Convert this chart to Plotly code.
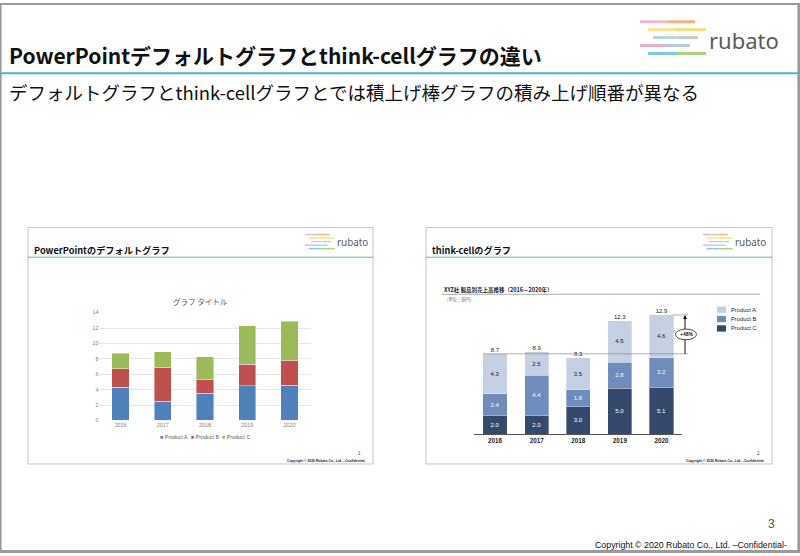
import plotly.graph_objects as go

W, H = 800, 556


def X(px):
    return px / W


def Y(py):
    return 1 - py / H


# ---------------- data ----------------
years = ["2016", "2017", "2018", "2019", "2020"]
series_names = ["Product A", "Product B", "Product C"]
product_a = [4.3, 2.5, 3.5, 4.5, 4.6]
product_b = [2.4, 4.4, 1.8, 2.8, 3.2]
product_c = [2.0, 2.0, 3.0, 5.0, 5.1]
y_ticks = [0, 2, 4, 6, 8, 10, 12, 14]

main_title = "PowerPointデフォルトグラフとthink-cellグラフの違い"
sub_title = "デフォルトグラフとthink-cellグラフとでは積上げ棒グラフの積み上げ順番が異なる"
left_panel_title = "PowerPointのデフォルトグラフ"
right_panel_title = "think-cellのグラフ"
left_chart_title = "グラフ タイトル"
right_chart_title = "XYZ社 製品別売上高推移（2016－2020年）"
right_unit = "（単位：億円）"
copyright_text = "Copyright © 2020 Rubato Co., Ltd. –Confidential-"

ppt_colors = ["#4F81BD", "#C0504D", "#9BBB59"]
tc_colors = ["#C5D0E3", "#6E8DBD", "#35496D"]
tc_text_colors = ["#1a1a1a", "#ffffff", "#ffffff"]

JP = "Noto Sans CJK JP"
LAT = "Liberation Sans"

values = [product_a, product_b, product_c]
totals = [round(a + b + c, 1) for a, b, c in zip(product_a, product_b, product_c)]
growth = totals[-1] / totals[0] - 1

fig = go.Figure()

# ---------------- left: PowerPoint default (A bottom) ----------------
for name, vals, col in zip(series_names, values, ppt_colors):
    fig.add_trace(go.Bar(
        x=years, y=vals, name=name, xaxis="x", yaxis="y", width=0.41,
        marker=dict(color=col, line=dict(color="rgba(255,255,255,0.7)", width=0.6)),
        showlegend=False, hoverinfo="skip"))

# ---------------- right: think-cell (C bottom) ----------------
for name, vals, col, tcol in reversed(list(zip(series_names, values, tc_colors, tc_text_colors))):
    fig.add_trace(go.Bar(
        x=years, y=vals, name=name, xaxis="x2", yaxis="y2", width=0.58,
        marker=dict(color=col, line=dict(color="rgba(255,255,255,0.55)", width=0.6)),
        text=[f"{v:.1f}" for v in vals], textposition="inside",
        insidetextanchor="middle", constraintext="none",
        textfont=dict(size=6, color=tcol, family=LAT),
        showlegend=False, hoverinfo="skip"))

fig.add_trace(go.Scatter(
    x=years, y=totals, mode="text", xaxis="x2", yaxis="y2",
    text=[f"{t:.1f}" for t in totals], textposition="top center",
    textfont=dict(size=6, color="#1a1a1a", family=LAT),
    showlegend=False, hoverinfo="skip"))

shapes = []
annotations = []


def line(x0, y0, x1, y1, color, width, dash="solid"):
    shapes.append(dict(type="line", xref="paper", yref="paper",
                       x0=X(x0), y0=Y(y0), x1=X(x1), y1=Y(y1),
                       line=dict(color=color, width=width, dash=dash)))


def text(x, y, s, size, color="#000", family=JP, xanchor="left", yanchor="middle"):
    annotations.append(dict(xref="paper", yref="paper", x=X(x), y=Y(y), text=s,
                            showarrow=False, xanchor=xanchor, yanchor=yanchor,
                            font=dict(size=size, color=color, family=family)))


# outer frame
line(0, 1, 800, 1, "#9a9a9a", 2)
line(0.8, 0, 0.8, 556, "#9a9a9a", 1.6)
line(798.7, 0, 798.7, 556, "#9a9a9a", 2.6)
line(0, 554.5, 800, 554.5, "#9a9a9a", 3)

# main header
text(7, 53, f"<b>{main_title}</b>", 21, "#111")
line(0, 71, 800, 71, "#4DB1CF", 2.2)
text(7, 90, sub_title, 18.5, "#111")


def logo(x0, y0, s):
    segs = [
        (0, 55, 0, "#E9B8D0", "#F3B27A"),
        (8, 66, 8, "#F6E58A", "#F3E06E"),
        (13, 58, 16, "#B6D7D3", "#C6CBD2"),
        (0, 50, 24, "#E8AFCB", "#BAC6E8"),
        (8, 66, 32, "#7CC8EC", "#A8D77A"),
    ]
    for a, b, dy, c1, c2 in segs:
        m = (a + b) / 2
        line(x0 + a * s, y0 + dy * s, x0 + m * s, y0 + dy * s, c1, 3.0 * s)
        line(x0 + m * s, y0 + dy * s, x0 + b * s, y0 + dy * s, c2, 3.0 * s)
    text(x0 + 67 * s, y0 + 18 * s, "rubato", 22 * s, "#5a5a5a", "Noto Sans")


logo(640, 19, 1.0)

# footer
text(777, 527, "3", 12, "#555", LAT, xanchor="right")
text(789, 548, copyright_text, 8.8, "#111", LAT, xanchor="right")

# ---------------- panels ----------------
for (px0, px1, title, logo_x, num, cpy_x) in [
        (28, 373, left_panel_title, 305, "1", 326),
        (426, 772, right_panel_title, 703, "2", 725)]:
    shapes.append(dict(type="rect", xref="paper", yref="paper",
                       x0=X(px0), x1=X(px1), y0=Y(466), y1=Y(227),
                       line=dict(color="#c4c4c4", width=1), fillcolor="rgba(0,0,0,0)"))
    line(px0, 257, px1, 257, "#5AB4CF", 1)
    text(px0 + 3.5, 250, f"<b>{title}</b>", 9.2, "#111")
    logo(logo_x, 234, 0.45)
    text(px1 - 10, 455, num, 4.5, "#444", LAT, xanchor="right")
    text(cpy_x, 463, f"<b>{copyright_text}</b>", 3.4, "#222", LAT, xanchor="center")

# left chart title and legend
text(201, 302, left_chart_title, 7.5, "#595959", xanchor="center")
leg_x = [158, 189, 220]
for lx, name, col in zip(leg_x, series_names, ppt_colors):
    text(lx, 439, f"<span style='color:{col}'>■</span> {name}", 5.3, "#595959", LAT)

# right chart title, unit, legend
text(442, 290, f"<b>{right_chart_title}</b>", 5.5, "#222")
line(442, 294.5, 760, 294.5, "#9a9a9a", 0.8)
text(442, 300, right_unit, 4.3, "#777")
for i, (name, col) in enumerate(zip(series_names, tc_colors)):
    yc = 310 + i * 9.5
    shapes.append(dict(type="rect", xref="paper", yref="paper",
                       x0=X(717), x1=X(726), y0=Y(yc + 3.2), y1=Y(yc - 3.2),
                       fillcolor=col, line=dict(width=0)))
    text(728.5, yc, name, 5.8, "#222", LAT)

# growth indicator (think-cell difference arrow); x in paper, y in data units
arrow_px = 685
first_bar_left_px = 483
last_bar_right_px = 673
for t, start in [(totals[0], first_bar_left_px), (totals[-1], last_bar_right_px)]:
    shapes.append(dict(type="line", xref="paper", yref="y2", x0=X(start), x1=X(688),
                       y0=t, y1=t, line=dict(color="#8a8a8a", width=0.7)))
# arrow shaft
shapes.append(dict(type="line", xref="paper", yref="y2", x0=X(arrow_px), x1=X(arrow_px),
                   y0=totals[0], y1=totals[-1] - 0.3, line=dict(color="#111", width=1)))
mid = (totals[0] + totals[-1]) / 2
# label bubble (drawn after the shaft so it covers it)
shapes.append(dict(type="circle", xref="paper", yref="y2",
                   x0=X(675.5), x1=X(696.5), y0=mid - 0.58, y1=mid + 0.58,
                   fillcolor="white", line=dict(color="#222", width=0.8)))
# arrow head
annotations.append(dict(xref="paper", yref="y2", axref="pixel", ayref="y2",
                        x=X(arrow_px), y=totals[-1], ax=0, ay=totals[-1] - 0.6,
                        showarrow=True, arrowhead=2, arrowsize=0.8, arrowwidth=1,
                        arrowcolor="#111", text=""))
annotations.append(dict(xref="paper", yref="y2", x=X(686), y=mid,
                        xanchor="center", yanchor="middle",
                        text=f"<b>+{growth * 100:.0f}%</b>", showarrow=False,
                        font=dict(size=5, color="#111", family=LAT)))

fig.update_layout(
    width=W, height=H, margin=dict(l=0, r=0, t=0, b=0),
    paper_bgcolor="white", plot_bgcolor="white",
    barmode="stack", showlegend=False,
    xaxis=dict(domain=[X(99.4), X(310.6)], range=[-0.5, 4.5], type="category",
               anchor="y", showgrid=False, showline=False, ticks="",
               tickfont=dict(size=5.3, color="#7f7f7f", family=LAT)),
    yaxis=dict(domain=[Y(422), Y(313)], range=[0, 14], tickvals=y_ticks,
               anchor="x", gridcolor="#e6e6e6", gridwidth=0.6, zeroline=False,
               showline=False, tickfont=dict(size=5.3, color="#7f7f7f", family=LAT)),
    xaxis2=dict(domain=[X(474.2), X(682.3)], range=[-0.5, 4.5], type="category",
                anchor="y2", showgrid=False, showline=True, linecolor="#555",
                linewidth=1, ticks="",
                tickfont=dict(size=6.3, color="#222", family=LAT, weight="bold")),
    yaxis2=dict(domain=[Y(436), Y(305.1)], range=[0, 14], anchor="x2",
                visible=False),
    shapes=shapes, annotations=annotations,
)

fig.write_html("out.html", config={"displayModeBar": False},
               post_script="document.body.style.margin='0';document.body.style.overflow='hidden';")
